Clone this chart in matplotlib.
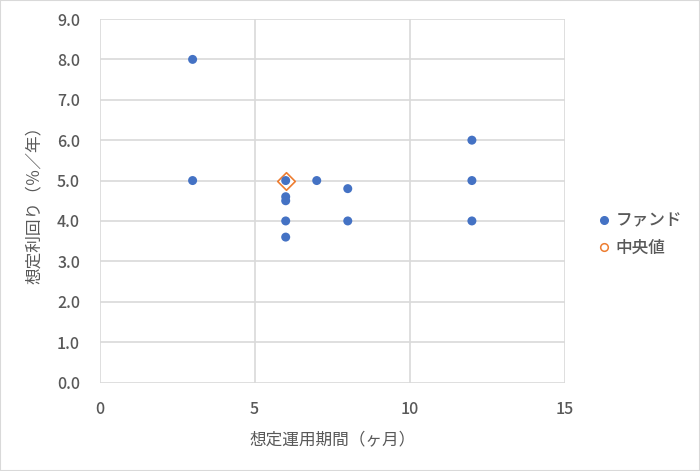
import matplotlib
matplotlib.use("Agg")
import matplotlib.pyplot as plt
from matplotlib.lines import Line2D
from matplotlib.patches import Rectangle

plt.rcParams['font.family'] = ['Noto Sans CJK JP', 'DejaVu Sans']
plt.rcParams['font.weight'] = 'medium'

# データ（想定運用期間 [ヶ月], 想定利回り [%/年]）
fund_months = [3, 3, 6, 6, 6, 6, 6, 7, 8, 8, 12, 12, 12]
fund_yield = [8.0, 5.0, 5.0, 4.6, 4.5, 4.0, 3.6, 5.0, 4.8, 4.0, 6.0, 5.0, 4.0]
median_months = [6]
median_yield = [5.0]

x_ticks = [0, 5, 10, 15]
y_ticks = [0, 1, 2, 3, 4, 5, 6, 7, 8, 9]

blue = '#4472C4'
orange = '#ED7D31'
grid = '#D9D9D9'
text_c = '#595959'

fig = plt.figure(figsize=(7.0, 4.71), dpi=100)
ax = fig.add_axes([99.5 / 700, 1 - 382.5 / 471, (565 - 99.5) / 700, (382.5 - 19) / 471])

ax.scatter(median_months, median_yield, marker='D', s=80, facecolor='white',
           edgecolor=orange, linewidth=1.2, zorder=3)
ax.scatter(fund_months, fund_yield, s=42, color=blue, edgecolor='none', zorder=4)

ax.set_xlim(0, 15)
ax.set_ylim(0, 9)
ax.set_xticks(x_ticks)
ax.set_yticks(y_ticks)
ax.set_yticklabels(['%.1f' % v for v in y_ticks])
ax.grid(True, color=grid, linewidth=1.2)
ax.set_axisbelow(True)
for s in ax.spines.values():
    s.set_visible(False)
ax.tick_params(length=0, labelsize=11.5, labelcolor=text_c)
ax.tick_params(axis='y', pad=14)
ax.tick_params(axis='x', pad=13)

ax.set_xlabel('想定運用期間（ヶ月）', fontsize=12, color=text_c, labelpad=10)
ax.set_ylabel('想定利回り（％／年）', fontsize=12, color=text_c, labelpad=10)

handles = [
    Line2D([], [], marker='o', linestyle='none', markersize=5.5,
           markerfacecolor=blue, markeredgecolor=blue),
    Line2D([], [], marker='o', linestyle='none', markersize=5.5,
           markerfacecolor='white', markeredgecolor=orange, markeredgewidth=1.1),
]
fig.legend(handles, ['ファンド', '中央値'], loc='center left',
           bbox_to_anchor=(579 / 700, 1 - 234 / 471), frameon=False,
           fontsize=12, labelcolor=text_c, handletextpad=0.1,
           handlelength=1.2, labelspacing=0.55)

fig.patches.append(Rectangle((0, 0), 1, 1, transform=fig.transFigure,
                             fill=False, edgecolor=grid, linewidth=1.5))

fig.savefig('out.png', dpi=100)
